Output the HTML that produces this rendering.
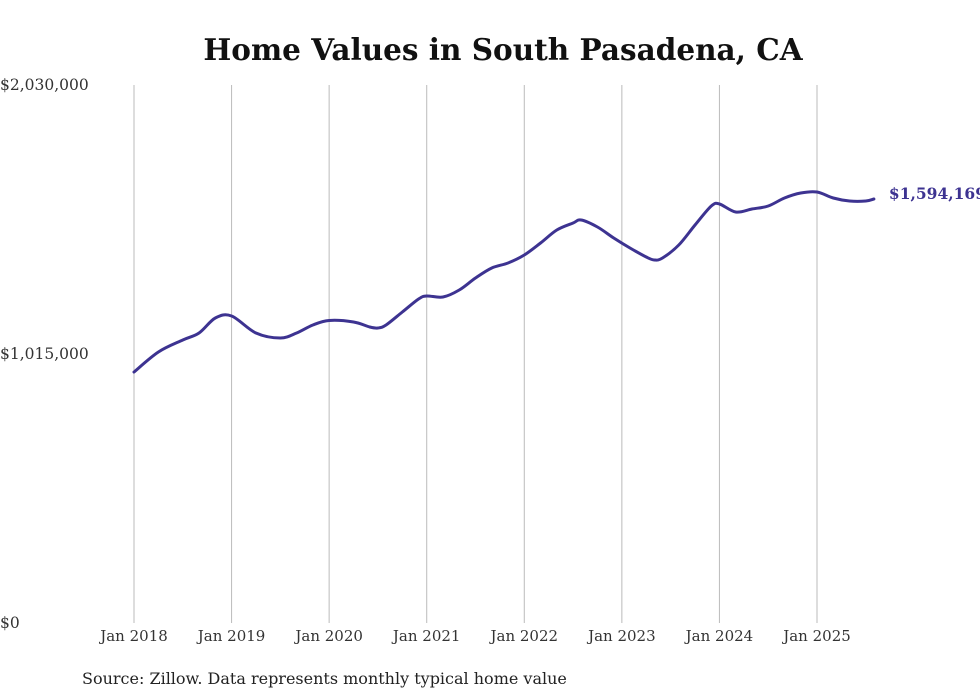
<!DOCTYPE html>
<html><head><meta charset="utf-8"><style>
body{margin:0;background:#fff;width:980px;height:699px;overflow:hidden}
svg{display:block}
text{font-family:"DejaVu Serif","Liberation Serif",serif}
</style></head><body>
<svg id="chart" width="980" height="699">
<text x="503" y="60" text-anchor="middle" font-size="29.5" font-weight="bold" fill="#111">Home Values in South Pasadena, CA</text>
<g id="grid"></g><g id="yax"></g><g id="xax"></g><g id="series"></g>
<text x="82" y="684" font-size="16" fill="#222">Source: Zillow. Data represents monthly typical home value</text>
</svg>
<script>
const monthIdx=[0,3,6,8,10,12,15,18,20,22,24,27,29,30,31,33,35,36,38,40,42,44,46,48,50,52,54,55,57,59,61,63,64,65,67,69,71,72,74,76,78,80,82,84,86,88,90,91];
const pixY=[372,352,340,333,318,316,333,338,333,325,320.5,322,327,328,325,312,299,296,297,290,278,268,263,255,243,230,223,220,227,238,248,257,260,258,245,225,206,204,212,209,206,198,193,192,198,201,201,199];
const values=pixY.map(y=>Math.round((623-y)*2030000/538));
const yTicks=[0,1015000,2030000];
const yTickLabels=["$0","$1,015,000","$2,030,000"];
const xTickYears=[2018,2019,2020,2021,2022,2023,2024,2025];
const lastLabel="$1,594,169";
const NS="http://www.w3.org/2000/svg";
const X=m=>134+m*(683/84);
const Y=v=>623-v/2030000*538;
function mk(t,a,p){const e=document.createElementNS(NS,t);for(const k in a)e.setAttribute(k,a[k]);p.appendChild(e);return e;}
const grid=document.getElementById('grid'),xax=document.getElementById('xax'),yax=document.getElementById('yax'),ser=document.getElementById('series');
xTickYears.forEach((yr,i)=>{
 const x=X((yr-2018)*12);
 const l=mk('line',{x1:x,x2:x,y1:85,y2:623,stroke:'#bbb','stroke-width':1},grid);
 
 
 const t=mk('text',{x:x,y:641,'text-anchor':'middle','font-size':15,fill:'#333'},xax);
 t.textContent='Jan '+yr;
 
 
});
yTicks.forEach((v,i)=>{
 const t=mk('text',{x:0,y:Y(v)+5,'font-size':15.5,fill:'#333'},yax);
 t.textContent=yTickLabels[i];
 
 
});
const pts=monthIdx.map((m,i)=>[X(m),Y(values[i])]);
let d='M'+pts[0][0]+','+pts[0][1];
for(let i=0;i<pts.length-1;i++){
 const p0=pts[i-1]||pts[i],p1=pts[i],p2=pts[i+1],p3=pts[i+2]||p2;
 const c1=[p1[0]+(p2[0]-p0[0])/6,p1[1]+(p2[1]-p0[1])/6],c2=[p2[0]-(p3[0]-p1[0])/6,p2[1]-(p3[1]-p1[1])/6];
 d+=' C'+c1+' '+c2+' '+p2;
}
const path=mk('path',{d:d,fill:'none',stroke:'#3d3391','stroke-width':3,'stroke-linejoin':'round','stroke-linecap':'round'},ser);


const last=pts[pts.length-1];
const lt=mk('text',{x:last[0]+15,y:last[1],'font-size':15.5,'font-weight':'bold',fill:'#3d3391'},ser);
lt.textContent=lastLabel;


</script>
</body></html>
